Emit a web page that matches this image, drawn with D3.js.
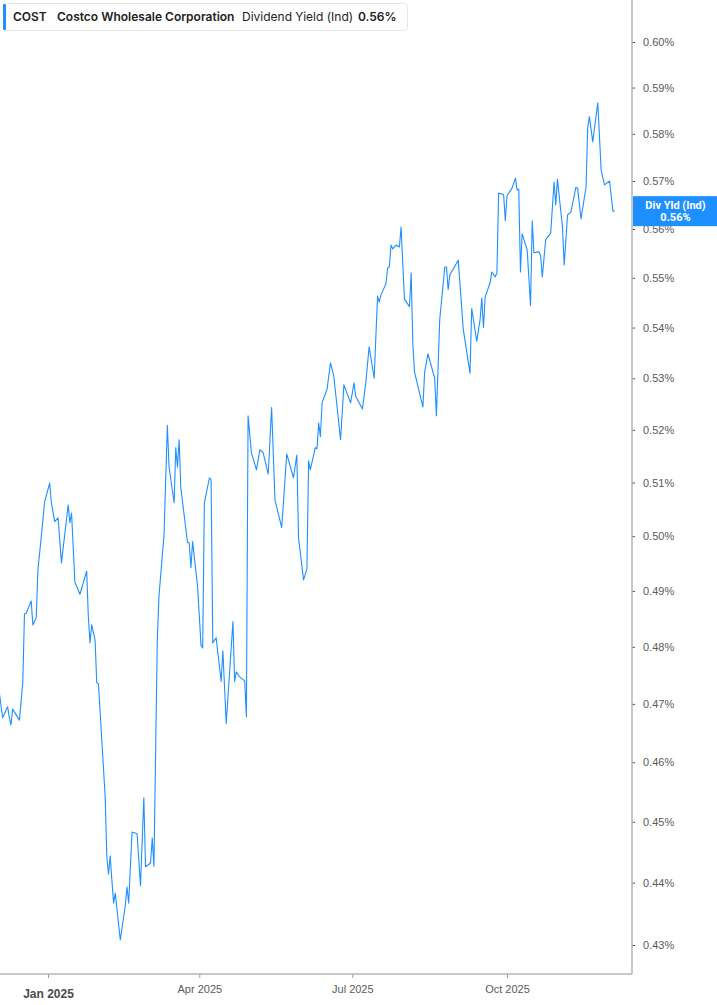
<!DOCTYPE html>
<html>
<head>
<meta charset="utf-8">
<script src="https://cdn.jsdelivr.net/npm/d3@7"></script>
<style>
  html, body { margin: 0; padding: 0; background: #fff; }
  svg { display: block; font-family: Roboto, "Liberation Sans", sans-serif; }
</style>
</head>
<body>
<div id="chart"></div>
<script>
// COST dividend yield (indicated), daily
const ticker = "COST";
const company = "Costco Wholesale Corporation";
const metric = "Dividend Yield (Ind)";
const lastLabel = "0.56%";
const badgeTitle = "Div Yld (Ind)";

const dates = [
  "2024-12-03","2024-12-05","2024-12-08","2024-12-09","2024-12-10","2024-12-11","2024-12-15","2024-12-17",
  "2024-12-18","2024-12-19","2024-12-22","2024-12-23","2024-12-25","2024-12-26","2024-12-28","2024-12-30",
  "2025-01-02","2025-01-03","2025-01-05","2025-01-07","2025-01-09","2025-01-13","2025-01-14","2025-01-15",
  "2025-01-17","2025-01-20","2025-01-24","2025-01-25","2025-01-26","2025-01-27","2025-01-29","2025-01-30",
  "2025-01-31","2025-02-02","2025-02-04","2025-02-05","2025-02-06","2025-02-07","2025-02-08","2025-02-09",
  "2025-02-10","2025-02-13","2025-02-16","2025-02-17","2025-02-18","2025-02-20","2025-02-23","2025-02-25",
  "2025-02-27","2025-02-28","2025-03-03","2025-03-04","2025-03-05","2025-03-07","2025-03-08","2025-03-10",
  "2025-03-11","2025-03-13","2025-03-14","2025-03-17","2025-03-18","2025-03-19","2025-03-20","2025-03-21",
  "2025-03-25","2025-03-26","2025-03-27","2025-03-28","2025-03-31","2025-04-02","2025-04-03","2025-04-04",
  "2025-04-07","2025-04-08","2025-04-09","2025-04-11","2025-04-14","2025-04-15","2025-04-17","2025-04-21",
  "2025-04-22","2025-04-23","2025-04-25","2025-04-28","2025-04-29","2025-04-30","2025-05-02","2025-05-05",
  "2025-05-07","2025-05-09","2025-05-12","2025-05-14","2025-05-16","2025-05-20","2025-05-23","2025-05-27",
  "2025-05-29","2025-05-30","2025-06-02","2025-06-04","2025-06-05","2025-06-06","2025-06-09","2025-06-10",
  "2025-06-11","2025-06-12","2025-06-13","2025-06-16","2025-06-18","2025-06-20","2025-06-24","2025-06-26",
  "2025-06-30","2025-07-02","2025-07-03","2025-07-07","2025-07-09","2025-07-11","2025-07-14","2025-07-16",
  "2025-07-17","2025-07-18","2025-07-21","2025-07-22","2025-07-23","2025-07-24","2025-07-25","2025-07-27",
  "2025-07-29","2025-07-30","2025-08-01","2025-08-04","2025-08-05","2025-08-06","2025-08-07","2025-08-12",
  "2025-08-13","2025-08-15","2025-08-19","2025-08-20","2025-08-22","2025-08-25","2025-08-26","2025-08-27",
  "2025-08-28","2025-09-02","2025-09-05","2025-09-09","2025-09-10","2025-09-13","2025-09-15","2025-09-16",
  "2025-09-17","2025-09-18","2025-09-21","2025-09-22","2025-09-24","2025-09-25","2025-09-26","2025-09-29",
  "2025-09-30","2025-10-01","2025-10-04","2025-10-06","2025-10-07","2025-10-08","2025-10-09","2025-10-10",
  "2025-10-13","2025-10-15","2025-10-16","2025-10-17","2025-10-20","2025-10-21","2025-10-22","2025-10-24",
  "2025-10-27","2025-10-29","2025-10-30","2025-10-31","2025-11-03","2025-11-04","2025-11-06","2025-11-08",
  "2025-11-11","2025-11-12","2025-11-14","2025-11-17","2025-11-18","2025-11-19","2025-11-21","2025-11-24",
  "2025-11-26","2025-11-28","2025-12-01","2025-12-03","2025-12-04"
];

// yield in percent
const yields = [
  0.4721,0.4676,0.4695,0.4676,0.4664,0.4691,0.4672,0.4737,
  0.4859,0.4860,0.4882,0.4839,0.4852,0.4938,0.4999,0.5064,
  0.5099,0.5062,0.5027,0.5034,0.4951,0.5058,0.5025,0.5043,
  0.4916,0.4894,0.4936,0.4853,0.4807,0.4839,0.4812,0.4737,
  0.4735,0.4638,0.4542,0.4442,0.4414,0.4444,0.4404,0.4367,
  0.4383,0.4308,0.4364,0.4393,0.4367,0.4483,0.4480,0.4395,
  0.4540,0.4426,0.4432,0.4473,0.4427,0.4812,0.4890,0.4966,
  0.5002,0.5209,0.5129,0.5062,0.5166,0.5129,0.5181,0.5090,
  0.4988,0.4988,0.4942,0.4990,0.4907,0.4803,0.4798,0.5062,
  0.5109,0.5105,0.4807,0.4816,0.4739,0.4793,0.4666,0.4845,
  0.4739,0.4756,0.4747,0.4740,0.4678,0.5227,0.5156,0.5124,
  0.5162,0.5156,0.5116,0.5243,0.5067,0.5016,0.5154,0.5109,
  0.5152,0.4997,0.4920,0.4940,0.5141,0.5124,0.5166,0.5164,
  0.5213,0.5187,0.5252,0.5279,0.5330,0.5304,0.5181,0.5287,
  0.5252,0.5291,0.5265,0.5240,0.5291,0.5362,0.5300,0.5463,
  0.5451,0.5465,0.5488,0.5520,0.5522,0.5567,0.5559,0.5567,
  0.5563,0.5604,0.5457,0.5442,0.5510,0.5367,0.5312,0.5244,
  0.5312,0.5348,0.5300,0.5227,0.5416,0.5522,0.5522,0.5476,
  0.5506,0.5536,0.5396,0.5310,0.5438,0.5373,0.5416,0.5459,
  0.5400,0.5461,0.5491,0.5512,0.5502,0.5510,0.5675,0.5671,
  0.5617,0.5669,0.5685,0.5706,0.5681,0.5683,0.5512,0.5590,
  0.5557,0.5444,0.5617,0.5551,0.5553,0.5545,0.5502,0.5578,
  0.5592,0.5698,0.5650,0.5704,0.5604,0.5526,0.5629,0.5635,
  0.5687,0.5685,0.5621,0.5687,0.5813,0.5837,0.5783,0.5867,
  0.5723,0.5692,0.5700,0.5637,0.5637
];

const yTicks = [0.43,0.44,0.45,0.46,0.47,0.48,0.49,0.50,0.51,0.52,0.53,0.54,0.55,0.56,0.57,0.58,0.59,0.60];
const xTickDates = ["2025-01-01","2025-04-01","2025-07-01","2025-10-01"];
const xTickLabels = ["Jan 2025","Apr 2025","Jul 2025","Oct 2025"];

function drawChart(container) {
  const width = 717, height = 1005;
  const plotRight = 632, plotBottom = 974;
  const blue = "#1e8fff";

  const parse = d3.utcParse("%Y-%m-%d");
  const data = dates.map((d, i) => ({ date: parse(d), value: yields[i] }));

  const svg = d3.select(container)
    .append("svg")
      .attr("width", width)
      .attr("height", height);

  // time scale anchored on the quarter ticks, extrapolates to the edges
  const x = d3.scaleUtc()
    .domain([parse("2025-01-01"), parse("2025-10-01")])
    .range([48, 507]);

  const y = d3.scaleLog()
    .domain([0.43, 0.60])
    .range([945, 42]);

  svg.append("clipPath")
      .attr("id", "plot-clip")
    .append("rect")
      .attr("x", 0).attr("y", 0)
      .attr("width", plotRight).attr("height", plotBottom);

  const line = d3.line()
    .x(d => x(d.date))
    .y(d => y(d.value));

  svg.append("path")
    .datum(data)
    .attr("clip-path", "url(#plot-clip)")
    .attr("fill", "none")
    .attr("stroke", blue)
    .attr("stroke-width", 1.1)
    .attr("stroke-linejoin", "round")
    .attr("d", line);

  // right axis
  const yAxis = d3.axisRight(y)
    .tickValues(yTicks)
    .tickSize(3)
    .tickPadding(8)
    .tickFormat(d => d.toFixed(2) + "%");

  const gy = svg.append("g")
    .attr("transform", `translate(${plotRight},0)`)
    .call(yAxis);
  gy.select(".domain").remove();
  gy.selectAll(".tick line").attr("stroke", "#555");
  gy.selectAll(".tick text")
    .attr("fill", "#5a5a5a")
    .style("font-size", "11px");

  svg.append("line")
    .attr("x1", plotRight).attr("x2", plotRight)
    .attr("y1", 0).attr("y2", plotBottom)
    .attr("stroke", "#b4b4b4")
    .attr("stroke-width", 1.5);

  // bottom axis
  const xAxis = d3.axisBottom(x)
    .tickValues(xTickDates.map(parse))
    .tickSize(4)
    .tickPadding(7)
    .tickFormat((d, i) => xTickLabels[i]);

  const gx = svg.append("g")
    .attr("transform", `translate(0,${plotBottom})`)
    .call(xAxis);
  gx.select(".domain").remove();
  gx.selectAll(".tick line").attr("stroke", "#999");
  gx.selectAll(".tick text")
    .attr("fill", "#5a5a5a")
    .style("font-size", "11px");
  gx.selectAll(".tick text")
    .filter((d, i) => i === 0)
    .attr("dy", "1.05em")
    .style("font-size", "12px")
    .style("font-weight", "bold")
    .attr("fill", "#4a4a4a");

  svg.append("line")
    .attr("x1", 0).attr("x2", plotRight)
    .attr("y1", plotBottom).attr("y2", plotBottom)
    .attr("stroke", "#b4b4b4")
    .attr("stroke-width", 1.5);

  // last value badge
  const last = data[data.length - 1];
  const by = y(last.value);
  const badge = svg.append("g")
    .attr("transform", `translate(${plotRight + 1},${by})`);
  badge.append("rect")
    .attr("x", 0).attr("y", -15)
    .attr("width", width - plotRight - 1).attr("height", 30)
    .attr("fill", blue);
  badge.append("text")
    .attr("x", (width - plotRight) / 2).attr("y", -2)
    .attr("text-anchor", "middle")
    .attr("fill", "#fff")
    .style("font-size", "11px")
    .style("font-weight", "bold")
    .text(badgeTitle);
  badge.append("text")
    .attr("x", (width - plotRight) / 2).attr("y", 10)
    .attr("text-anchor", "middle")
    .attr("fill", "#fff")
    .style("font-size", "11px")
    .style("font-weight", "bold")
    .text(lastLabel);

  // header legend box
  const head = svg.append("g");
  head.append("rect")
    .attr("x", 3.5).attr("y", 3.5)
    .attr("width", 404).attr("height", 27)
    .attr("rx", 3)
    .attr("fill", "#fff")
    .attr("stroke", "#e6e6e6");
  head.append("rect")
    .attr("x", 3).attr("y", 4)
    .attr("width", 3).attr("height", 26)
    .attr("rx", 1)
    .attr("fill", blue);

  const parts = [
    { t: ticker, x: 13, bold: true },
    { t: company, x: 57, bold: true },
    { t: metric, x: 242, bold: false },
    { t: lastLabel, x: 358, bold: true }
  ];
  head.selectAll("text.hdr")
    .data(parts)
    .join("text")
      .attr("class", "hdr")
      .attr("x", d => d.x)
      .attr("y", 21)
      .attr("fill", "#222")
      .style("font-family", "Inter, Roboto, sans-serif")
      .style("font-size", "12px")
      .style("font-weight", d => d.bold ? 600 : "normal")
      .text(d => d.t);
}

drawChart(document.getElementById("chart"));
</script>
</body>
</html>
